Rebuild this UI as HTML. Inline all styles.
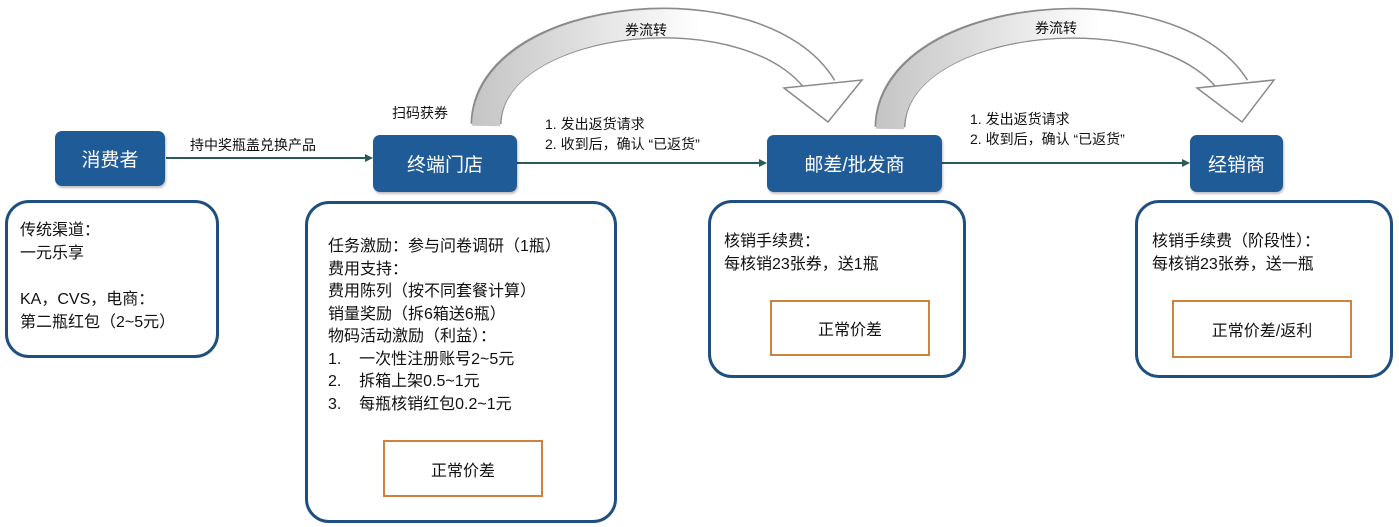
<!DOCTYPE html>
<html><head><meta charset="utf-8">
<style>
body{margin:0;width:1399px;height:527px;background:#fff;position:relative;overflow:hidden;font-family:"Liberation Sans","Noto Sans CJK SC",sans-serif;color:#111}
.n{position:absolute;background:#1f5b96;border-radius:7px;color:#fff;font-size:19px;display:flex;align-items:center;justify-content:center;box-shadow:1px 2px 2px rgba(0,0,0,.25)}
.b{position:absolute;border:3px solid #1f4f80;border-radius:24px;box-sizing:border-box;background:#fff}
.t{position:absolute;font-size:16px;line-height:22.5px;white-space:nowrap}
.o{position:absolute;border:2px solid #d0823c;box-sizing:border-box;display:flex;align-items:center;justify-content:center;font-size:16px;background:#fff}
.l{position:absolute;font-size:14px;line-height:20px;white-space:nowrap}
</style></head><body>
<svg width="1399" height="527" style="position:absolute;left:0;top:0">
<defs>
<linearGradient id="g1" gradientUnits="userSpaceOnUse" x1="470" y1="0" x2="700" y2="0"><stop offset="0" stop-color="#c4c4c4"/><stop offset="0.5" stop-color="#e0e0e0"/><stop offset="1" stop-color="#fff"/></linearGradient>
<linearGradient id="g2" gradientUnits="userSpaceOnUse" x1="875" y1="0" x2="1100" y2="0"><stop offset="0" stop-color="#c4c4c4"/><stop offset="0.5" stop-color="#e0e0e0"/><stop offset="1" stop-color="#fff"/></linearGradient>
</defs>
<path d="M486,124 C488,10 760,-15 822,88" fill="none" stroke="#8a8a8a" stroke-width="31"/>
<path d="M486,126 C488,10 760,-15 822,88" fill="none" stroke="url(#g1)" stroke-width="28"/>
<polygon points="784,88 862,80 828,122" fill="#fff" stroke="#8a8a8a" stroke-width="1.5"/>
<path d="M890,127 C892,10 1170,-15 1235,88" fill="none" stroke="#8a8a8a" stroke-width="31"/>
<path d="M890,129 C892,10 1170,-15 1235,88" fill="none" stroke="url(#g2)" stroke-width="28"/>
<polygon points="1197,88 1274,80 1242,122" fill="#fff" stroke="#8a8a8a" stroke-width="1.5"/>
<g stroke="#2a5a5a" stroke-width="2">
<line x1="166" y1="158" x2="368" y2="158"/><line x1="517" y1="163" x2="762" y2="163"/><line x1="942" y1="163" x2="1185" y2="163"/></g>
<g fill="#2a5a5a"><polygon points="373,158 365,154 365,162"/><polygon points="767,163 759,159 759,167"/><polygon points="1190,163 1182,159 1182,167"/></g>
</svg>
<div class="n" style="left:55px;top:131px;width:110px;height:55px">消费者</div>
<div class="n" style="left:373px;top:135px;width:144px;height:57px">终端门店</div>
<div class="n" style="left:767px;top:135px;width:175px;height:57px">邮差/批发商</div>
<div class="n" style="left:1190px;top:135px;width:93px;height:57px">经销商</div>
<div class="l" style="left:190px;top:135px">持中奖瓶盖兑换产品</div>
<div class="l" style="left:392px;top:103px">扫码获券</div>
<div class="l" style="left:625px;top:20px">券流转</div>
<div class="l" style="left:1035px;top:18px">券流转</div>
<div class="l" style="left:545px;top:114px">1. 发出返货请求<br>2. 收到后，确认 “已返货”</div>
<div class="l" style="left:970px;top:109px">1. 发出返货请求<br>2. 收到后，确认 “已返货”</div>
<div class="b" style="left:5px;top:200px;width:214px;height:158px"></div>
<div class="t" style="left:20px;top:219px;line-height:23px">传统渠道：<br>一元乐享<br><br>KA，CVS，电商：<br>第二瓶红包（2~5元）</div>
<div class="b" style="left:305px;top:201px;width:312px;height:322px"></div>
<div class="t" style="left:328px;top:236px">任务激励：参与问卷调研（1瓶）<br>费用支持：<br>费用陈列（按不同套餐计算）<br>销量奖励（拆6箱送6瓶）<br>物码活动激励（利益）：<br>1.&nbsp;&nbsp;&nbsp;&nbsp;一次性注册账号2~5元<br>2.&nbsp;&nbsp;&nbsp;&nbsp;拆箱上架0.5~1元<br>3.&nbsp;&nbsp;&nbsp;&nbsp;每瓶核销红包0.2~1元</div>
<div class="o" style="left:383px;top:440px;width:160px;height:57px">正常价差</div>
<div class="b" style="left:708px;top:200px;width:258px;height:178px"></div>
<div class="t" style="left:724px;top:231px">核销手续费：<br>每核销23张券，送1瓶</div>
<div class="o" style="left:770px;top:300px;width:160px;height:56px">正常价差</div>
<div class="b" style="left:1135px;top:200px;width:258px;height:178px"></div>
<div class="t" style="left:1152px;top:231px">核销手续费（阶段性）：<br>每核销23张券，送一瓶</div>
<div class="o" style="left:1172px;top:300px;width:180px;height:58px">正常价差/返利</div>
</body></html>
